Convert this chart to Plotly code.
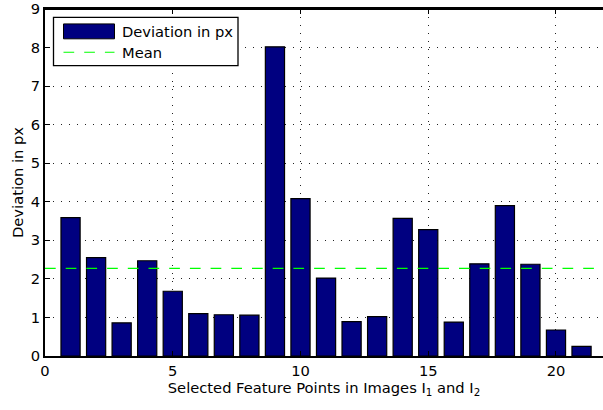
import plotly.graph_objects as go

# Per-point deviation values (px) for the 21 selected feature points
points = list(range(1, 22))
deviation = [3.59, 2.55, 0.86, 2.47, 1.68, 1.10, 1.07, 1.06, 8.02, 4.08, 2.02,
             0.89, 1.02, 3.57, 3.28, 0.88, 2.39, 3.90, 2.38, 0.675, 0.25]
x_ticks = [0, 5, 10, 15, 20]
y_ticks = list(range(0, 10))
x_range = [0, 21.84]

mean_dev = sum(deviation) / len(deviation)

FONT = "DejaVu Sans"
FS = 14.7
BAR_COLOR = "#000080"
MEAN_COLOR = "#00ff00"
MEAN_DASH = "10.7px,10px"

fig = go.Figure()
fig.add_trace(go.Bar(
    x=points, y=deviation, width=0.75,
    marker=dict(color=BAR_COLOR, line=dict(color="black", width=1.2)),
    name="Deviation in px",
))
fig.add_trace(go.Scatter(
    x=[0, 22], y=[mean_dev, mean_dev], mode="lines",
    line=dict(color=MEAN_COLOR, width=1.2, dash=MEAN_DASH),
    name="Mean",
))

# Legend box drawn in paper coordinates
px_w, px_h = 603 - 45, 410 - 7 - 54
def px(xp):
    return (xp - 45) / px_w
def py(yp):
    return (410 - 54 - yp) / px_h

shapes = [
    dict(type="rect", xref="paper", yref="paper",
         x0=px(53.5), x1=px(238), y0=py(64), y1=py(15.5),
         line=dict(color="black", width=1.3), fillcolor="white"),
    dict(type="rect", xref="paper", yref="paper",
         x0=px(63.5), x1=px(114.5), y0=py(37), y1=py(22),
         line=dict(color="black", width=1), fillcolor=BAR_COLOR),
    dict(type="line", xref="paper", yref="paper",
         x0=px(63.5), x1=px(114.5), y0=py(50.5), y1=py(50.5),
         line=dict(color=MEAN_COLOR, width=1.2, dash=MEAN_DASH)),
    # top frame line of the axes box
    dict(type="line", xref="paper", yref="paper", x0=0, x1=1, y0=1, y1=1,
         line=dict(color="black", width=2)),
]

annotations = [
    dict(xref="paper", yref="paper", x=px(120), y=py(29.5), xanchor="left",
         yanchor="middle", text="Deviation in px", showarrow=False,
         font=dict(family=FONT, size=FS, color="black")),
    dict(xref="paper", yref="paper", x=px(120), y=py(51), xanchor="left",
         yanchor="middle", text="Mean", showarrow=False,
         font=dict(family=FONT, size=FS, color="black")),
]

grid_dash = "1px,7px"
fig.update_layout(
    width=603, height=410,
    margin=dict(l=45, r=0, t=7, b=54),
    plot_bgcolor="white", paper_bgcolor="white",
    font=dict(family=FONT, size=FS, color="black"),
    showlegend=False,
    shapes=shapes, annotations=annotations,
    xaxis=dict(
        range=x_range, tickvals=x_ticks,
        showline=True, linecolor="black", linewidth=2, mirror="ticks",
        ticks="inside", ticklen=5, tickcolor="black", tickwidth=1,
        showgrid=True, gridcolor="#222222", griddash=grid_dash,
        zeroline=False,
        title=dict(text="Selected Feature Points in Images I<sub>1</sub> and I<sub>2</sub>",
                   font=dict(family=FONT, size=FS), standoff=0),
    ),
    yaxis=dict(
        range=[0, 9], tickvals=y_ticks,
        showline=True, linecolor="black", linewidth=2,
        ticks="inside", ticklen=5, tickcolor="black", tickwidth=1,
        showgrid=True, gridcolor="#222222", griddash=grid_dash,
        zeroline=False, ticklabeloverflow="allow",
        title=dict(text="Deviation in px", font=dict(family=FONT, size=FS), standoff=4),
    ),
)

fig.write_html("out.html")
